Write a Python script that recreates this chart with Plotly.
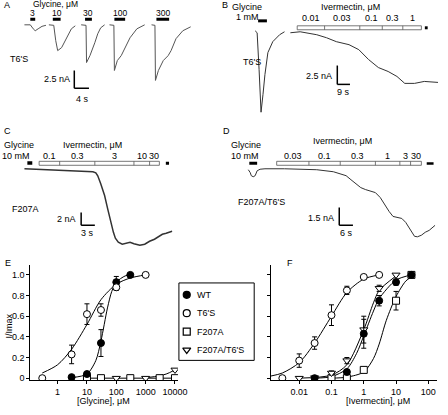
import plotly.graph_objects as go

W, H = 448, 415
FONT = "Liberation Sans, Arial, sans-serif"
FS = 9

# ============================ DATA ============================
# Panel A (T6'S, glycine responses): time (s), current (nA)
a_conc_labels = ["3", "10", "30", "100", "300"]
a_app_start = [2.93, 9.07, 17.87, 25.87, 37.33]
a_app_end = [4.27, 11.2, 19.73, 28.8, 40.8]
a_t = [
    [1.33, 2.93, 3.73, 4.27, 5.07, 6.13, 7.2],
    [8.0, 9.33, 9.87, 10.4, 11.47, 12.8, 14.13, 15.2],
    [16.8, 18.13, 18.27, 19.2, 20.53, 21.33, 22.13, 23.2],
    [24.53, 25.73, 25.87, 26.67, 27.73, 28.8, 30.13, 32.0, 34.13],
    [36.0, 36.93, 37.07, 37.87, 39.2, 40.53, 41.33, 42.67, 44.53, 46.67],
]
a_i = [
    [0, 0, -0.56, -0.83, -0.56, -0.21, -0.07],
    [0, -0.07, -2.22, -3.61, -3.19, -1.81, -0.56, -0.14],
    [0, -0.07, -5.28, -4.31, -2.5, -1.25, -0.42, 0],
    [0, -0.07, -6.39, -5.0, -4.31, -3.19, -1.81, -0.56, 0],
    [0, -0.07, -7.78, -6.39, -5.0, -4.31, -3.61, -1.94, -0.83, -0.28],
]
a_scale_nA, a_scale_s = 2.5, 4

# Panel B (T6'S, glycine 1 mM then ivermectin)
b_gly_t = [14.58, 15.97, 17.36, 18.75, 20.14, 21.53, 23.61, 27.08, 31.94, 35.42]
b_gly_i = [0.26, 0, -4.87, -10.53, -8.16, -5.53, -2.63, -1.18, -0.26, 0.13]
b_ivm_t = [39.58, 46.53, 58.33, 65.28, 72.22, 81.25, 88.19, 95.14, 102.08,
           109.03, 115.28, 120.83, 127.78, 134.72, 144.44]
b_ivm_i = [0, 0.13, -0.26, -0.66, -1.18, -1.58, -2.24, -3.55, -4.61,
           -5.13, -5.79, -6.71, -6.71, -6.45, -6.58]
b_gly_app = (16.67, 22.92)
b_ivm_conc = ["0.01", "0.03", "0.1", "0.3", "1"]
b_ivm_edges = [44.44, 63.89, 88.89, 104.86, 119.44, 132.64]
b_wash_t = 136.1
b_scale_nA, b_scale_s = 2.5, 9

# Panel C (F207A, glycine 10 mM then ivermectin)
c_t = [1.07, 4.29, 7.5, 10.07, 12.86, 16.07, 16.71, 17.14, 17.79, 18.64,
       19.29, 19.93, 20.57, 21.0, 21.64, 22.5, 23.36, 24.21, 25.07, 26.36,
       27.43, 28.5, 29.57, 30.64, 31.29, 32.14, 33.43]
c_i = [0, -0.08, -0.23, -0.31, -0.38, -0.46, -0.62, -1.08, -2.31, -4.15,
       -6.15, -8.15, -9.85, -10.77, -11.38, -11.69, -11.54, -11.38, -11.62, -11.85,
       -11.69, -11.23, -10.92, -10.46, -10.15, -10.0, -9.69]
c_gly_app = (1.71, 2.79)
c_ivm_conc = ["0.1", "0.3", "3", "10", "30"]
c_ivm_edges = [4.29, 8.79, 16.5, 25.07, 28.5, 30.64]
c_wash_t = 32.36
c_scale_nA, c_scale_s = 2, 3

# Panel D (F207A/T6'S)
d_t = [6.0, 6.86, 7.29, 8.14, 9.0, 9.86, 11.14, 13.29, 21.86, 30.0,
       36.0, 43.29, 46.29, 48.86, 51.0, 53.14, 55.29, 57.43, 59.57, 61.71,
       63.86, 66.0, 67.71, 69.43, 71.14, 73.29, 75.0, 76.71, 78.0, 78.86,
       80.14, 81.86, 83.57, 85.29, 87.86]
d_i = [-0.08, -0.33, -0.58, -0.67, -0.58, -0.17, -0.04, 0, 0, -0.04,
       -0.08, -0.25, -0.42, -0.58, -0.92, -1.25, -1.58, -1.75, -1.88, -2.0,
       -2.42, -3.08, -3.58, -4.0, -4.08, -4.17, -4.5, -5.0, -5.42, -5.67,
       -5.71, -5.58, -5.33, -5.17, -4.75]
d_gly_app = (6.43, 9.86)
d_ivm_conc = ["0.03", "0.1", "0.3", "1", "3", "30"]
d_ivm_edges = [18.43, 32.57, 46.29, 61.71, 72.43, 77.14, 81.86]
d_wash_t = 85.71
d_scale_nA, d_scale_s = 1.5, 6

# Panel E: glycine concentration-response (uM, I/Imax)
gly_wt_x = [3, 10, 30, 100, 300]
gly_wt_y = [0.01, 0.04, 0.34, 0.93, 1.0]
gly_wt_e = [0, 0.01, 0.13, 0.055, 0]
gly_t6_x = [0.3, 3, 10, 30, 100, 1000]
gly_t6_y = [0.0, 0.23, 0.62, 0.66, 0.88, 1.0]
gly_t6_e = [0, 0.09, 0.1, 0.06, 0.03, 0]
gly_f207_x = [10, 30, 300, 3000, 10000]
gly_f207_y = [0, 0, 0, 0, 0]
gly_dbl_x = [100, 1000, 10000]
gly_dbl_y = [0, 0, 0.08]
fit_gly_wt_x = [3, 10, 20, 30, 50, 70, 100, 200, 300]
fit_gly_wt_y = [0.005, 0.04, 0.17, 0.36, 0.68, 0.84, 0.93, 0.99, 1.0]
fit_gly_t6_x = [0.3, 1, 3, 10, 30, 100, 300, 1000]
fit_gly_t6_y = [0.05, 0.13, 0.28, 0.52, 0.76, 0.91, 0.97, 1.0]
fit_gly_f207_x = [10, 10000]
fit_gly_f207_y = [0, 0]
fit_gly_dbl_x = [1000, 2000, 5000, 10000]
fit_gly_dbl_y = [0.005, 0.015, 0.04, 0.08]
gly_ticks = [1, 10, 100, 1000, 10000]

# Panel F: ivermectin concentration-response (uM, I/Imax)
ivm_wt_x = [0.03, 0.3, 1, 3, 10, 30]
ivm_wt_y = [0.0, 0.06, 0.43, 0.75, 0.93, 1.0]
ivm_wt_e = [0, 0.02, 0.14, 0.05, 0.03, 0]
ivm_t6_x = [0.003, 0.01, 0.03, 0.1, 0.3, 1, 3]
ivm_t6_y = [0.0, 0.17, 0.34, 0.61, 0.85, 0.98, 1.0]
ivm_t6_e = [0, 0.065, 0.06, 0.1, 0.04, 0, 0]
ivm_f207_x = [0.1, 0.3, 1, 10, 30]
ivm_f207_y = [0.0, 0.0, 0.08, 0.75, 1.0]
ivm_f207_e = [0, 0, 0, 0.09, 0]
ivm_dbl_x = [0.01, 0.03, 0.1, 0.3, 1, 3, 10]
ivm_dbl_y = [0.0, 0.005, 0.05, 0.17, 0.47, 0.87, 1.0]
ivm_dbl_e = [0, 0, 0.02, 0.03, 0.13, 0.03, 0]
fit_ivm_t6_x = [0.0013, 0.003, 0.01, 0.03, 0.1, 0.3, 1, 3]
fit_ivm_t6_y = [0.02, 0.05, 0.15, 0.34, 0.6, 0.83, 0.96, 1.0]
fit_ivm_wt_x = [0.03, 0.1, 0.3, 0.6, 1, 2, 3, 10, 30]
fit_ivm_wt_y = [0.0, 0.015, 0.09, 0.24, 0.41, 0.65, 0.77, 0.95, 1.0]
fit_ivm_dbl_x = [0.01, 0.1, 0.3, 1, 2, 3, 10]
fit_ivm_dbl_y = [0.0, 0.03, 0.13, 0.47, 0.73, 0.85, 0.99]
fit_ivm_f207_x = [0.1, 0.3, 1, 2, 3, 5, 10, 20, 30]
fit_ivm_f207_y = [0.0, 0.01, 0.06, 0.19, 0.33, 0.56, 0.79, 0.94, 0.98]
ivm_ticks = [0.01, 0.1, 1, 10, 100]

legend_names = ["WT", "T6'S", "F207A", "F207A/T6'S"]
# ==============================================================

fig = go.Figure()
shapes, annos = [], []
TRACE_COLOR = "#333333"


def px(xp):
    return xp / W


def py(yp):
    return 1 - yp / H


def text(xp, yp, s, anchor="center", size=FS):
    annos.append(dict(x=px(xp), y=py(yp), xref="paper", yref="paper", text=s,
                      showarrow=False, xanchor=anchor, yanchor="middle",
                      font=dict(family=FONT, size=size, color="black")))


# recording panels: pixel box + calibration (origin px, px per unit)
panels = {
    "A": dict(n=1, box=(0, 0, 224, 100), xo=20, xs=3.75, yo=25, ys=7.2),
    "B": dict(n=2, box=(224, 0, 448, 125), xo=240, xs=1.44, yo=33, ys=7.6),
    "C": dict(n=3, box=(0, 128, 224, 255), xo=20, xs=4.667, yo=170, ys=6.5),
    "D": dict(n=4, box=(224, 128, 448, 255), xo=240, xs=2.333, yo=170, ys=12.0),
}


def axname(n):
    return ("x" if n == 1 else f"x{n}"), ("y" if n == 1 else f"y{n}")


for key, p in panels.items():
    x0, y0, x1, y1 = p["box"]
    n = p["n"]
    sfx = "" if n == 1 else str(n)
    xa, ya = axname(n)
    p["xa"], p["ya"] = xa, ya
    fig.layout["xaxis" + sfx] = dict(domain=[px(x0), px(x1)],
                                     range=[(x0 - p["xo"]) / p["xs"], (x1 - p["xo"]) / p["xs"]],
                                     visible=False, anchor=ya, fixedrange=True)
    fig.layout["yaxis" + sfx] = dict(domain=[py(y1), py(y0)],
                                     range=[-(y1 - p["yo"]) / p["ys"], -(y0 - p["yo"]) / p["ys"]],
                                     visible=False, anchor=xa, fixedrange=True)


def t_of(p, xp):
    return (xp - p["xo"]) / p["xs"]


def i_of(p, yp):
    return -(yp - p["yo"]) / p["ys"]


def rec(p, t, i, w=1.0, color=TRACE_COLOR):
    fig.add_trace(go.Scatter(x=t, y=i, xaxis=p["xa"], yaxis=p["ya"], mode="lines",
                             line=dict(color=color, width=w), showlegend=False,
                             hoverinfo="skip"))


def black_bar(p, t0, t1, ytop, ybot):
    shapes.append(dict(type="rect", xref=p["xa"], yref=p["ya"], x0=t0, x1=t1,
                       y0=i_of(p, ybot), y1=i_of(p, ytop), fillcolor="black",
                       line=dict(width=0)))


def open_bar(p, edges, ytop, ybot, labels, label_y):
    shapes.append(dict(type="rect", xref=p["xa"], yref=p["ya"], x0=edges[0], x1=edges[-1],
                       y0=i_of(p, ybot), y1=i_of(p, ytop), fillcolor="white",
                       line=dict(color="#555555", width=0.8)))
    for e in edges[1:-1]:
        shapes.append(dict(type="line", xref=p["xa"], yref=p["ya"], x0=e, x1=e,
                           y0=i_of(p, ybot), y1=i_of(p, ytop),
                           line=dict(color="#555555", width=0.8)))
    for k, lab in enumerate(labels):
        tc = 0.5 * (edges[k] + edges[k + 1])
        xp = p["xo"] + tc * p["xs"]
        text(xp, label_y, lab)


def scale_bar(p, corner_px, nA, sec):
    tc, ic = t_of(p, corner_px[0]), i_of(p, corner_px[1])
    shapes.append(dict(type="line", xref=p["xa"], yref=p["ya"], x0=tc, x1=tc,
                       y0=ic, y1=ic + nA, line=dict(color="black", width=1.5)))
    shapes.append(dict(type="line", xref=p["xa"], yref=p["ya"], x0=tc, x1=tc + sec,
                       y0=ic, y1=ic, line=dict(color="black", width=1.5)))


# ---- Panel A
pA = panels["A"]
for t, i in zip(a_t, a_i):
    rec(pA, t, i, 1.0, "#555555")
for t0, t1, lab in zip(a_app_start, a_app_end, a_conc_labels):
    black_bar(pA, t0, t1, 18, 21)
    text(pA["xo"] + 0.5 * (t0 + t1) * pA["xs"], 13.5, lab, size=8.5)
scale_bar(pA, (76, 89), a_scale_nA, a_scale_s)
text(2, 5, "A", "left")
text(32, 4.5, "Glycine, μM", "left", size=8.5)
text(8, 59, "T6'S", "left")
text(74, 80, "2.5 nA", "right")
text(84, 100, "4 s")

# ---- Panel B
pB = panels["B"]
rec(pB, b_gly_t, b_gly_i, 1.0)
rec(pB, b_ivm_t, b_ivm_i, 1.0)
black_bar(pB, b_gly_app[0], b_gly_app[1], 19.5, 22.5)
open_bar(pB, b_ivm_edges, 26, 30, b_ivm_conc, 18)
black_bar(pB, b_wash_t - 1.0, b_wash_t + 1.0, 26.5, 29.5)
scale_bar(pB, (345, 85), b_scale_nA, b_scale_s)
text(225, 5, "B", "left")
text(253, 7, "Glycine")
text(267, 17, "1 mM", "right")
text(358, 7, "Ivermectin, μM")
text(246, 62, "T6'S", "left")
text(342, 77, "2.5 nA", "right")
text(351, 93, "9 s")

# ---- Panel C
pC = panels["C"]
rec(pC, c_t, c_i, 1.5)
black_bar(pC, c_gly_app[0], c_gly_app[1], 162.5, 166)
open_bar(pC, c_ivm_edges, 162.5, 166.5, c_ivm_conc, 157)
black_bar(pC, c_wash_t - 0.3, c_wash_t + 0.4, 163, 166)
scale_bar(pC, (83, 227), c_scale_nA, c_scale_s)
text(2, 132, "C", "left")
text(2, 146, "Glycine", "left")
text(33, 157, "10 mM", "right")
text(95, 146, "Ivermectin, μM")
text(10, 211, "F207A", "left")
text(80, 221, "2 nA", "right")
text(89, 235, "3 s")

# ---- Panel D
pD = panels["D"]
rec(pD, d_t, d_i, 1.0)
black_bar(pD, d_gly_app[0], d_gly_app[1], 163, 166)
open_bar(pD, d_ivm_edges, 162.5, 166.5, d_ivm_conc, 157)
black_bar(pD, d_wash_t - 1.5, d_wash_t + 1.5, 163.5, 166)
scale_bar(pD, (347, 227), d_scale_nA, d_scale_s)
text(226, 132, "D", "left")
text(252, 146, "Glycine")
text(267, 157, "10 mM", "right")
text(350, 142, "Ivermectin, μM")
text(241, 203, "F207A/T6'S", "left")
text(344, 220, "1.5 nA", "right")
text(354, 235, "6 s")

# ---- Panels E and F
EY0, EY1 = 266.5, 383
ax_common = dict(showline=True, linecolor="black", linewidth=1, ticks="outside",
                 ticklen=3, tickwidth=1, tickcolor="black", showgrid=False,
                 zeroline=False, fixedrange=True, ticklabeloverflow="allow",
                 tickfont=dict(family=FONT, size=FS, color="black"))
fig.layout["xaxis5"] = dict(ax_common, type="log", domain=[px(31), px(182)],
                            range=[-0.93, 4.1], anchor="y5",
                            tickvals=gly_ticks, ticktext=[str(v) for v in gly_ticks])
fig.layout["yaxis5"] = dict(ax_common, domain=[py(EY1), py(EY0)], range=[-0.02, 1.1],
                            anchor="x5", tickvals=[0, 0.2, 0.4, 0.6, 0.8, 1.0],
                            ticktext=["0", "0.2", "0.4", "0.6", "0.8", "1.0"])
fig.layout["xaxis6"] = dict(ax_common, type="log", domain=[px(277), px(447)],
                            range=[-2.88, 2.27], anchor="y6",
                            tickvals=ivm_ticks, ticktext=[str(v) for v in ivm_ticks])
fig.layout["yaxis6"] = dict(ax_common, domain=[py(EY1), py(EY0)], range=[-0.02, 1.1],
                            anchor="x6", tickvals=[0, 0.2, 0.4, 0.6, 0.8, 1.0],
                            showticklabels=False)

styles = {
    "WT": dict(symbol="circle", filled=True),
    "T6'S": dict(symbol="circle", filled=False),
    "F207A": dict(symbol="square", filled=False),
    "F207A/T6'S": dict(symbol="triangle-down", filled=False),
}


def curve(xa, ya, x, y):
    fig.add_trace(go.Scatter(x=x, y=y, xaxis=xa, yaxis=ya, mode="lines",
                             line=dict(color="black", width=1, shape="spline", smoothing=0.8),
                             showlegend=False, hoverinfo="skip"))


def points(xa, ya, x, y, err, name):
    st = styles[name]
    fig.add_trace(go.Scatter(
        x=x, y=y, xaxis=xa, yaxis=ya, mode="markers", name=name, showlegend=False,
        marker=dict(symbol=st["symbol"], size=7,
                    color="black" if st["filled"] else "white",
                    line=dict(color="black", width=1)),
        error_y=dict(type="data", array=err if err else [0] * len(x), visible=bool(err),
                     color="black", thickness=1, width=2.5)))


# E curves + points
curve("x5", "y5", fit_gly_f207_x, fit_gly_f207_y)
curve("x5", "y5", fit_gly_dbl_x, fit_gly_dbl_y)
curve("x5", "y5", fit_gly_wt_x, fit_gly_wt_y)
curve("x5", "y5", fit_gly_t6_x, fit_gly_t6_y)
points("x5", "y5", gly_f207_x, gly_f207_y, None, "F207A")
points("x5", "y5", gly_dbl_x, gly_dbl_y, None, "F207A/T6'S")
points("x5", "y5", gly_wt_x, gly_wt_y, gly_wt_e, "WT")
points("x5", "y5", gly_t6_x, gly_t6_y, gly_t6_e, "T6'S")

# F curves + points
curve("x6", "y6", fit_ivm_t6_x, fit_ivm_t6_y)
curve("x6", "y6", fit_ivm_wt_x, fit_ivm_wt_y)
curve("x6", "y6", fit_ivm_dbl_x, fit_ivm_dbl_y)
curve("x6", "y6", fit_ivm_f207_x, fit_ivm_f207_y)
points("x6", "y6", ivm_f207_x, ivm_f207_y, ivm_f207_e, "F207A")
points("x6", "y6", ivm_dbl_x, ivm_dbl_y, ivm_dbl_e, "F207A/T6'S")
points("x6", "y6", ivm_wt_x, ivm_wt_y, ivm_wt_e, "WT")
points("x6", "y6", ivm_t6_x, ivm_t6_y, ivm_t6_e, "T6'S")

text(3, 265, "E", "left")
text(291, 265, "F", "left")
annos.append(dict(x=px(9), y=py(328), xref="paper", yref="paper", text="I/Imax",
                  textangle=-90, showarrow=False, xanchor="center", yanchor="middle",
                  font=dict(family=FONT, size=FS, color="black")))
text(106, 404, "[Glycine], μM")
text(387, 404, "[Ivermectin], μM")

# ---- manual legend (pixel-space overlay axis)
LX0, LY0, LX1, LY1 = 183, 285, 260, 363
fig.layout["xaxis7"] = dict(domain=[0, 1], range=[0, W], visible=False, anchor="y7", fixedrange=True)
fig.layout["yaxis7"] = dict(domain=[0, 1], range=[H, 0], visible=False, anchor="x7", fixedrange=True)
shapes.append(dict(type="rect", xref="paper", yref="paper", x0=px(LX0), x1=px(LX1),
                   y0=py(LY1), y1=py(LY0), line=dict(color="black", width=1),
                   fillcolor="white", layer="below"))
for k, name in enumerate(legend_names):
    yy = LY0 + 12 + k * 18.5
    st = styles[name]
    fig.add_trace(go.Scatter(x=[LX0 + 8], y=[yy], xaxis="x7", yaxis="y7", mode="markers",
                             marker=dict(symbol=st["symbol"], size=7,
                                         color="black" if st["filled"] else "white",
                                         line=dict(color="black", width=1.2)),
                             showlegend=False, hoverinfo="skip"))
    text(LX0 + 16, yy, name, "left")

fig.update_layout(width=W, height=H, margin=dict(l=0, r=0, t=0, b=0),
                  paper_bgcolor="white", plot_bgcolor="rgba(0,0,0,0)",
                  shapes=shapes, annotations=annos, showlegend=False,
                  font=dict(family=FONT, size=FS, color="black"))
fig.write_html("out.html", config={"displayModeBar": False, "staticPlot": True},
               post_script="document.body.style.margin='0';document.body.style.overflow='hidden';")
